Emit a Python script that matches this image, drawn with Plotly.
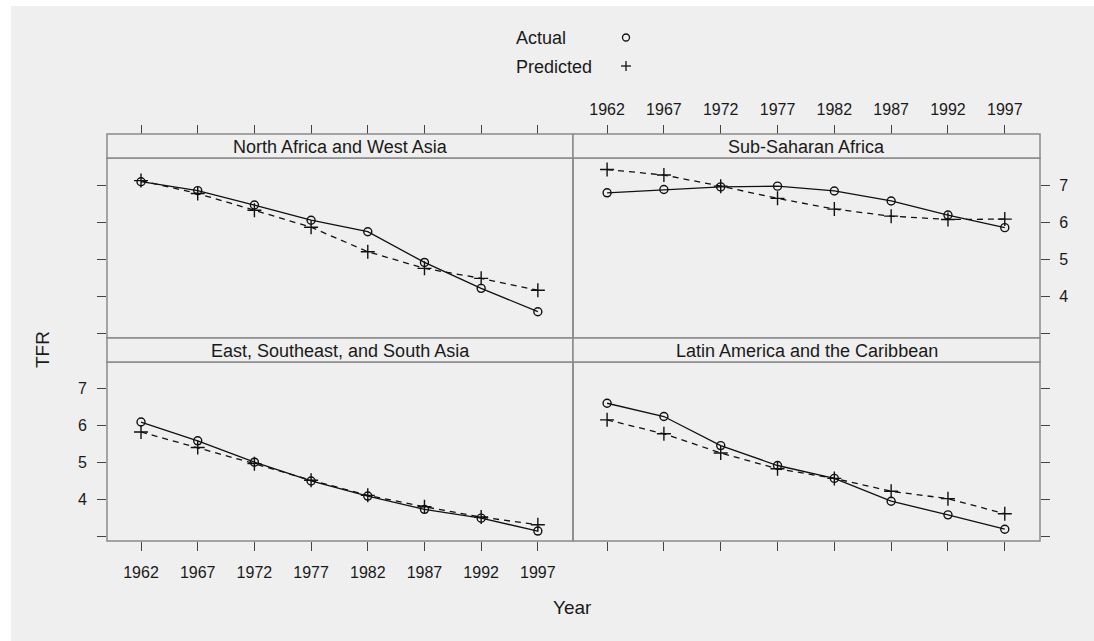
import plotly.graph_objects as go

W, H = 1094, 641

years = [1962, 1967, 1972, 1977, 1982, 1987, 1992, 1997]
year_labels = ["1962", "1967", "1972", "1977", "1982", "1987", "1992", "1997"]
tfr_ticks = [3, 4, 5, 6, 7]
tfr_labels = ["", "4", "5", "6", "7"]

regions = ["North Africa and West Asia", "Sub-Saharan Africa",
           "East, Southeast, and South Asia", "Latin America and the Caribbean"]

actual_nawa = [7.09, 6.85, 6.46, 6.05, 5.74, 4.91, 4.21, 3.58]
pred_nawa = [7.12, 6.77, 6.32, 5.86, 5.20, 4.75, 4.48, 4.16]
actual_ssa = [6.79, 6.88, 6.95, 6.97, 6.84, 6.57, 6.19, 5.85]
pred_ssa = [7.42, 7.27, 6.97, 6.64, 6.35, 6.16, 6.07, 6.08]
actual_esa = [6.10, 5.59, 5.01, 4.50, 4.09, 3.73, 3.49, 3.14]
pred_esa = [5.83, 5.41, 4.97, 4.52, 4.11, 3.80, 3.52, 3.31]
actual_lac = [6.61, 6.25, 5.46, 4.92, 4.57, 3.95, 3.58, 3.19]
pred_lac = [6.16, 5.78, 5.26, 4.83, 4.57, 4.22, 4.02, 3.61]

def px(x):
    return x / W

def py(y):
    return 1 - y / H

FONT = "Liberation Sans, Arial, Helvetica, sans-serif"
TXT = "#1a1a1a"
BG = "#efefef"
BORDER = "#8a8a8a"
TICK = "#444444"

# panel geometry (pixels)
XL = (107, 573)
XR = (573, 1040)
TOP_STRIP = (134, 158)
TOP_PLOT = (158, 338)
BOT_STRIP = (338, 362)
BOT_PLOT = (362, 541)

XRANGE = [1959.0, 2000.1]
YRANGE = [2.87, 7.73]

fig = go.Figure()

panels = [
    ("x3", "y3", actual_nawa, pred_nawa),
    ("x4", "y4", actual_ssa, pred_ssa),
    ("x", "y", actual_esa, pred_esa),
    ("x2", "y2", actual_lac, pred_lac),
]

for xa, ya, act, pred in panels:
    fig.add_trace(go.Scatter(x=years, y=pred, xaxis=xa, yaxis=ya, mode="lines+markers",
                             line=dict(color="#111", width=1.3, dash="6px,5px"),
                             marker=dict(symbol="cross-thin", size=10,
                                         line=dict(color="#111", width=1.4)),
                             showlegend=False, hoverinfo="skip"))
    fig.add_trace(go.Scatter(x=years, y=act, xaxis=xa, yaxis=ya, mode="lines+markers",
                             line=dict(color="#111", width=1.3),
                             marker=dict(symbol="circle-open", size=8,
                                         line=dict(color="#111", width=1.4)),
                             showlegend=False, hoverinfo="skip"))

common_x = dict(range=XRANGE, tickvals=years, ticktext=year_labels, ticks="outside",
                ticklen=9, tickwidth=1.2, tickcolor=TICK, showgrid=False, zeroline=False,
                showline=False, tickfont=dict(family=FONT, size=16, color=TXT), fixedrange=True)
common_y = dict(range=YRANGE, tickvals=tfr_ticks, ticktext=tfr_labels, ticks="outside",
                ticklen=9, tickwidth=1.2, tickcolor=TICK, showgrid=False, zeroline=False,
                showline=False, tickfont=dict(family=FONT, size=16, color=TXT), fixedrange=True)

fig.update_layout(
    width=W, height=H,
    margin=dict(l=0, r=0, t=0, b=0),
    paper_bgcolor="white",
    plot_bgcolor="rgba(0,0,0,0)",
    showlegend=False,
    xaxis=dict(common_x, domain=[px(XL[0]), px(XL[1])], anchor="y", side="bottom",
               showticklabels=True, ticklabelstandoff=8),
    yaxis=dict(common_y, domain=[py(BOT_PLOT[1]), py(BOT_PLOT[0])], anchor="x", side="left",
               showticklabels=True, ticklabelstandoff=7),
    xaxis2=dict(common_x, domain=[px(XR[0]), px(XR[1])], anchor="y2", side="bottom",
                showticklabels=False),
    yaxis2=dict(common_y, domain=[py(BOT_PLOT[1]), py(BOT_PLOT[0])], anchor="x2", side="right",
                showticklabels=False),
    xaxis3=dict(common_x, domain=[px(XL[0]), px(XL[1])], anchor="free",
                position=py(TOP_STRIP[0]), side="top", showticklabels=False),
    yaxis3=dict(common_y, domain=[py(TOP_PLOT[1]), py(TOP_PLOT[0])], anchor="x3", side="left",
                showticklabels=False),
    xaxis4=dict(common_x, domain=[px(XR[0]), px(XR[1])], anchor="free",
                position=py(TOP_STRIP[0]), side="top", showticklabels=True,
                ticklabelstandoff=4),
    yaxis4=dict(common_y, domain=[py(TOP_PLOT[1]), py(TOP_PLOT[0])], anchor="x4", side="right",
                showticklabels=True, ticklabelstandoff=6),
)

shapes = []
annotations = []

# background
shapes.append(dict(type="rect", xref="paper", yref="paper", x0=px(11), x1=1.0, y0=0.0,
                   y1=py(6), fillcolor=BG, line=dict(width=0), layer="below"))

strip_defs = [
    (XL, TOP_STRIP, TOP_PLOT, regions[0]),
    (XR, TOP_STRIP, TOP_PLOT, regions[1]),
    (XL, BOT_STRIP, BOT_PLOT, regions[2]),
    (XR, BOT_STRIP, BOT_PLOT, regions[3]),
]
for xs, strip, plot, name in strip_defs:
    shapes.append(dict(type="rect", xref="paper", yref="paper",
                       x0=px(xs[0]), x1=px(xs[1]), y0=py(plot[1]), y1=py(plot[0]),
                       line=dict(color=BORDER, width=1.5), fillcolor="rgba(0,0,0,0)",
                       layer="above"))
    shapes.append(dict(type="rect", xref="paper", yref="paper",
                       x0=px(xs[0]), x1=px(xs[1]), y0=py(strip[1]), y1=py(strip[0]),
                       line=dict(color=BORDER, width=1.5), fillcolor=BG, layer="above"))
    annotations.append(dict(xref="paper", yref="paper", x=px((xs[0] + xs[1]) / 2),
                            y=py((strip[0] + strip[1]) / 2 + 0.5), text=name, showarrow=False,
                            xanchor="center", yanchor="middle",
                            font=dict(family=FONT, size=18, color=TXT)))

# legend
annotations.append(dict(xref="paper", yref="paper", x=px(514), y=py(37.5), text="Actual",
                        showarrow=False, xanchor="left", yanchor="middle",
                        font=dict(family=FONT, size=18, color=TXT)))
annotations.append(dict(xref="paper", yref="paper", x=px(514), y=py(66.5), text="Predicted",
                        showarrow=False, xanchor="left", yanchor="middle",
                        font=dict(family=FONT, size=18, color=TXT)))
cx, cy, r = 626, 37.5, 3.5
shapes.append(dict(type="circle", xref="paper", yref="paper", x0=px(cx - r), x1=px(cx + r),
                   y0=py(cy + r), y1=py(cy - r), line=dict(color="#111", width=1.3)))
pxc, pyc, s = 626, 66, 5
shapes.append(dict(type="line", xref="paper", yref="paper", x0=px(pxc - s), x1=px(pxc + s),
                   y0=py(pyc), y1=py(pyc), line=dict(color="#111", width=1.3)))
shapes.append(dict(type="line", xref="paper", yref="paper", x0=px(pxc), x1=px(pxc),
                   y0=py(pyc - s), y1=py(pyc + s), line=dict(color="#111", width=1.3)))

# axis titles
annotations.append(dict(xref="paper", yref="paper", x=px(42), y=py(350), text="TFR",
                        showarrow=False, textangle=-90, xanchor="center", yanchor="middle",
                        font=dict(family=FONT, size=19, color=TXT)))
annotations.append(dict(xref="paper", yref="paper", x=px(572), y=py(607), text="Year",
                        showarrow=False, xanchor="center", yanchor="middle",
                        font=dict(family=FONT, size=19, color=TXT)))

fig.update_layout(shapes=shapes, annotations=annotations)

fig.write_html("out.html", config={"displayModeBar": False},
               post_script="document.body.style.margin='0';document.body.style.overflow='hidden';")
